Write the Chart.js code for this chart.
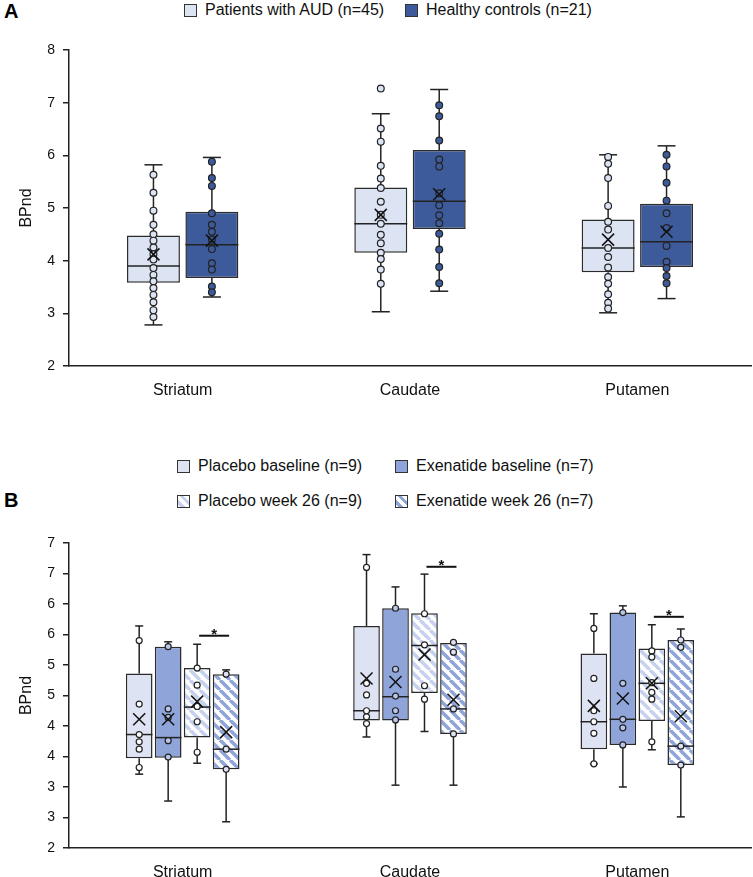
<!DOCTYPE html>
<html><head><meta charset="utf-8">
<script src="https://cdn.jsdelivr.net/npm/chart.js@4.4.0/dist/chart.umd.min.js"></script>
<style>
body{margin:0;background:#fff;width:753px;height:877px;position:relative;overflow:hidden;font-family:"Liberation Sans",Arial,sans-serif;}
.letter{position:absolute;font-weight:bold;font-size:20px;line-height:20px;color:#000}
.leg{position:absolute;font-size:16px;line-height:16px;color:#111;white-space:nowrap;display:flex;align-items:center}
.leg .sw{width:11px;height:11px;border:1.5px solid #333;margin-right:8px;display:inline-block}
canvas{position:absolute;left:0}
#cA{top:0}
#cB{top:420px}
</style></head>
<body>
<div class="letter" style="left:4px;top:1px">A</div>
<div class="letter" style="left:4px;top:490px">B</div>
<div id="legA1" class="leg" style="left:184px;top:2px"><span class="sw"></span>Patients with AUD (n=45)</div>
<div id="legA2" class="leg" style="left:405px;top:2px"><span class="sw"></span>Healthy controls (n=21)</div>
<div id="legB1" class="leg" style="left:177px;top:458px"><span class="sw"></span>Placebo baseline (n=9)</div>
<div id="legB2" class="leg" style="left:395px;top:458px"><span class="sw"></span>Exenatide baseline (n=7)</div>
<div id="legB3" class="leg" style="left:177px;top:493px"><span class="sw"></span>Placebo week 26 (n=9)</div>
<div id="legB4" class="leg" style="left:395px;top:493px"><span class="sw"></span>Exenatide week 26 (n=7)</div>
<canvas id="cA" width="753" height="410"></canvas>
<canvas id="cB" width="753" height="457"></canvas>
<script>
// ---------- DATA ----------
const categories = ['Striatum', 'Caudate', 'Putamen'];
const tickLabelsA = ['2', '3', '4', '5', '6', '7', '8'];
const tickLabelsB = ['2', '3', '3', '4', '4', '5', '5', '6', '6', '7', '7'];

// Panel A: Patients with AUD
const audMin = [2.78, 3.03, 3.01];
const audQ1 = [3.58, 4.15, 3.78];
const audMedian = [3.90, 4.70, 4.24];
const audQ3 = [4.48, 5.39, 4.78];
const audMax = [5.82, 6.79, 6.01];
const audMean = [4.12, 4.87, 4.40];
const audPoints = [
  [5.63, 5.29, 4.95, 4.68, 4.50, 4.38, 4.25, 4.12, 4.02, 3.86, 3.73, 3.61, 3.48, 3.35, 3.21, 3.06, 2.93],
  [7.27, 6.51, 6.26, 5.80, 5.56, 5.38, 5.12, 4.87, 4.70, 4.49, 4.33, 4.15, 4.03, 3.83, 3.56],
  [5.97, 5.84, 5.57, 5.04, 4.74, 4.59, 4.24, 4.07, 3.87, 3.69, 3.56, 3.36, 3.20, 3.09]
];
// Panel A: Healthy controls
const hcMin = [3.31, 3.42, 3.28];
const hcQ1 = [3.67, 4.60, 3.88];
const hcMedian = [4.30, 5.13, 4.36];
const hcQ3 = [4.93, 6.10, 5.08];
const hcMax = [5.96, 7.25, 6.18];
const hcMean = [4.38, 5.26, 4.55];
const hcPoints = [
  [5.88, 5.57, 5.42, 4.90, 4.68, 4.55, 4.40, 4.22, 3.95, 3.83, 3.51, 3.40],
  [6.95, 6.74, 6.28, 5.92, 5.79, 5.28, 5.05, 4.86, 4.71, 4.51, 4.21, 3.88, 3.57],
  [6.01, 5.79, 5.48, 5.14, 4.90, 4.62, 4.28, 3.98, 3.86, 3.71, 3.57]
];

// Panel B: Placebo baseline
const pbMin = [3.21, 3.82, 3.38];
const pbQ1 = [3.47, 4.09, 3.62];
const pbMedian = [3.86, 4.25, 4.07];
const pbQ3 = [4.86, 5.64, 5.19];
const pbMax = [5.64, 6.81, 5.84];
const pbMean = [4.11, 4.78, 4.33];
const pbPoints = [
  [5.40, 4.36, 3.86, 3.74, 3.62, 3.32],
  [6.60, 4.70, 4.51, 4.25, 4.15, 4.04],
  [5.60, 4.78, 4.25, 4.07, 3.88, 3.38]
];
// Panel B: Exenatide baseline
const ebMin = [2.77, 3.03, 3.00];
const ebQ1 = [3.48, 4.09, 3.69];
const ebMedian = [3.81, 4.48, 4.11];
const ebQ3 = [5.30, 5.93, 5.86];
const ebMax = [5.38, 6.28, 5.97];
const ebMean = [4.11, 4.72, 4.45];
const ebPoints = [
  [5.30, 4.28, 4.14, 3.76, 3.49],
  [5.93, 4.93, 4.49, 4.25, 4.10],
  [5.86, 4.70, 4.11, 3.97, 3.69]
];
// Panel B: Placebo week 26
const pwMin = [3.39, 3.91, 3.61];
const pwQ1 = [3.81, 4.54, 4.08];
const pwMedian = [4.31, 5.32, 4.70];
const pwQ3 = [4.95, 5.85, 5.27];
const pwMax = [5.34, 6.49, 5.66];
const pwMean = [4.40, 5.17, 4.70];
const pwPoints = [
  [4.95, 4.67, 4.32, 4.07, 3.57],
  [5.84, 5.33, 4.66, 4.44],
  [5.23, 5.13, 4.71, 4.55, 4.44, 3.74]
];
// Panel B: Exenatide week 26
const ewMin = [2.43, 3.03, 2.51];
const ewQ1 = [3.29, 3.87, 3.36];
const ewMedian = [3.62, 4.28, 3.67];
const ewQ3 = [4.85, 5.36, 5.41];
const ewMax = [4.92, 5.36, 5.59];
const ewMean = [3.90, 4.43, 4.16];
const ewPoints = [
  [4.85, 3.62, 3.29],
  [5.37, 5.21, 4.28, 3.87],
  [5.41, 5.29, 3.67, 3.36]
];
// significance bars (placebo wk26 vs exenatide wk26)
const sigLevel = [5.48, 6.61, 5.79];

// ---------- STYLE ----------
const FONT = '"Liberation Sans", Arial, sans-serif';
const INK = '#222';
const cAUD = '#dce3f3', cHC = '#3d5a9a', cPB = '#dde3f3', cEB = '#8fa4d8';
const stripeLight = '#c6d1ee', stripeMed = '#8fa4d8';

function stripes(color, lw) {
  const s = 10, c = document.createElement('canvas');
  c.width = c.height = s;
  const g = c.getContext('2d');
  g.fillStyle = '#fff'; g.fillRect(0, 0, s, s);
  g.strokeStyle = color; g.lineWidth = lw;
  for (const o of [-s, 0, s]) { g.beginPath(); g.moveTo(o, 0); g.lineTo(o + s, s); g.stroke(); }
  return g.createPattern(c, 'repeat');
}

// legend swatches
document.querySelector('#legA1 .sw').style.background = cAUD;
document.querySelector('#legA2 .sw').style.background = cHC;
document.querySelector('#legB1 .sw').style.background = cPB;
document.querySelector('#legB2 .sw').style.background = cEB;
document.querySelector('#legB3 .sw').style.background =
  'repeating-linear-gradient(45deg,#fff 0 2px,' + stripeLight + ' 2px 5px,#fff 5px 7px)';
document.querySelector('#legB4 .sw').style.background =
  'repeating-linear-gradient(45deg,#fff 0 2px,' + stripeMed + ' 2px 5px,#fff 5px 7px)';

// ---------- BOX PLUGIN ----------
const boxPlugin = {
  id: 'boxes',
  afterDatasetsDraw(chart, args, opts) {
    const ctx = chart.ctx, ys = chart.scales.y;
    const P = v => ys.getPixelForValue(v);
    const line = (x1, y1, x2, y2) => { ctx.beginPath(); ctx.moveTo(x1, y1); ctx.lineTo(x2, y2); ctx.stroke(); };
    ctx.save();
    opts.stats.forEach((st, di) => {
      const meta = chart.getDatasetMeta(di);
      meta.data.forEach((bar, j) => {
        const cx = bar.x, w = bar.width;
        const yq1 = P(st.q1[j]), yq3 = P(st.q3[j]);
        const ymin = P(st.min[j]), ymax = P(st.max[j]);
        ctx.strokeStyle = INK; ctx.lineWidth = 1.5;
        if (st.max[j] > st.q3[j]) { line(cx, yq3, cx, ymax); line(cx - st.cap, ymax, cx + st.cap, ymax); }
        if (st.min[j] < st.q1[j]) { line(cx, yq1, cx, ymin); line(cx - st.cap, ymin, cx + st.cap, ymin); }
        const ym = P(st.med[j]);
        line(cx - w / 2, ym, cx + w / 2, ym);
        // points
        ctx.lineWidth = 1.2;
        st.points[j].forEach(v => {
          ctx.beginPath(); ctx.arc(cx, P(v), st.r, 0, Math.PI * 2);
          ctx.fillStyle = st.pfill; ctx.fill(); ctx.strokeStyle = INK; ctx.stroke();
        });
        // mean cross
        const yme = P(st.mean[j]), h = st.x;
        ctx.lineWidth = 1.5; ctx.strokeStyle = '#111';
        line(cx - h, yme - h, cx + h, yme + h); line(cx - h, yme + h, cx + h, yme - h);
      });
    });
    if (opts.sig) {
      const m2 = chart.getDatasetMeta(2), m3 = chart.getDatasetMeta(3);
      opts.sig.forEach((v, j) => {
        const y = P(v), x1 = m2.data[j].x + 2, x2 = m3.data[j].x + 3;
        ctx.strokeStyle = '#111'; ctx.lineWidth = 2;
        line(x1, y, x2, y);
        ctx.fillStyle = '#111'; ctx.font = 'bold 15px ' + FONT;
        ctx.textAlign = 'center'; ctx.textBaseline = 'alphabetic';
        ctx.fillText('*', (x1 + x2) / 2, y + 3);
      });
    }
    ctx.restore();
  }
};

function yAxis(min, max, step, labels, width) {
  return {
    min, max,
    ticks: { stepSize: step, font: { size: 14, family: FONT }, color: '#111', padding: 8,
      callback: (v, i) => labels[i] },
    grid: { drawOnChartArea: false, drawTicks: true, tickLength: 6, color: INK, lineWidth: 1.5 },
    border: { display: true, color: INK, width: 1.5 },
    title: { display: true, text: 'BPnd', font: { size: 16, family: FONT }, color: '#111', padding: { top: 17, bottom: 0 } },
    afterFit(s) { s.width = width; }
  };
}
function xAxis(height) {
  return {
    grid: { display: false, drawTicks: false },
    border: { display: true, color: INK, width: 1.5 },
    ticks: { font: { size: 16, family: FONT }, color: '#111', padding: 15, maxRotation: 0 },
    afterFit(s) { s.height = height; }
  };
}
const mk = (q1, q3) => categories.map((_, i) => [q1[i], q3[i]]);
const barDs = (label, q1, q3, bg, cp, bp) => ({
  label, data: mk(q1, q3), backgroundColor: bg, borderColor: '#2b2b2b', borderWidth: 1.5,
  borderSkipped: false, categoryPercentage: cp, barPercentage: bp
});

// ---------- PANEL A ----------
new Chart(document.getElementById('cA'), {
  type: 'bar',
  data: { labels: categories, datasets: [
    barDs('Patients with AUD (n=45)', audQ1, audQ3, cAUD, 0.514, 0.906),
    barDs('Healthy controls (n=21)', hcQ1, hcQ3, cHC, 0.514, 0.906)
  ]},
  options: {
    responsive: false, animation: false,
    layout: { padding: { top: 50, right: 2, left: 0, bottom: 0 } },
    plugins: {
      legend: { display: false }, tooltip: { enabled: false },
      boxes: { stats: [
        { min: audMin, q1: audQ1, med: audMedian, q3: audQ3, max: audMax, mean: audMean, points: audPoints, pfill: cAUD, cap: 9, r: 3.4, x: 6 },
        { min: hcMin, q1: hcQ1, med: hcMedian, q3: hcQ3, max: hcMax, mean: hcMean, points: hcPoints, pfill: cHC, cap: 9, r: 3.4, x: 6 }
      ]}
    },
    scales: { x: xAxis(44), y: yAxis(2, 8, 1, tickLabelsA, 69) }
  },
  plugins: [boxPlugin]
});

// ---------- PANEL B ----------
new Chart(document.getElementById('cB'), {
  type: 'bar',
  data: { labels: categories, datasets: [
    barDs('Placebo baseline (n=9)', pbQ1, pbQ3, cPB, 0.51, 0.92),
    barDs('Exenatide baseline (n=7)', ebQ1, ebQ3, cEB, 0.51, 0.92),
    barDs('Placebo week 26 (n=9)', pwQ1, pwQ3, stripes(stripeLight, 3.5), 0.51, 0.92),
    barDs('Exenatide week 26 (n=7)', ewQ1, ewQ3, stripes(stripeMed, 3.5), 0.51, 0.92)
  ]},
  options: {
    responsive: false, animation: false,
    layout: { padding: { top: 123, right: 2, left: 0, bottom: 0 } },
    plugins: {
      legend: { display: false }, tooltip: { enabled: false },
      boxes: { sig: sigLevel, stats: [
        { min: pbMin, q1: pbQ1, med: pbMedian, q3: pbQ3, max: pbMax, mean: pbMean, points: pbPoints, pfill: '#fff', cap: 4, r: 3, x: 6 },
        { min: ebMin, q1: ebQ1, med: ebMedian, q3: ebQ3, max: ebMax, mean: ebMean, points: ebPoints, pfill: '#b9c6ea', cap: 4, r: 3, x: 6 },
        { min: pwMin, q1: pwQ1, med: pwMedian, q3: pwQ3, max: pwMax, mean: pwMean, points: pwPoints, pfill: '#fff', cap: 4, r: 3, x: 6 },
        { min: ewMin, q1: ewQ1, med: ewMedian, q3: ewQ3, max: ewMax, mean: ewMean, points: ewPoints, pfill: '#dde3f3', cap: 4, r: 3, x: 6 }
      ]}
    },
    scales: { x: xAxis(29), y: yAxis(2, 7, 0.5, tickLabelsB, 69) }
  },
  plugins: [boxPlugin]
});
</script>
</body></html>
